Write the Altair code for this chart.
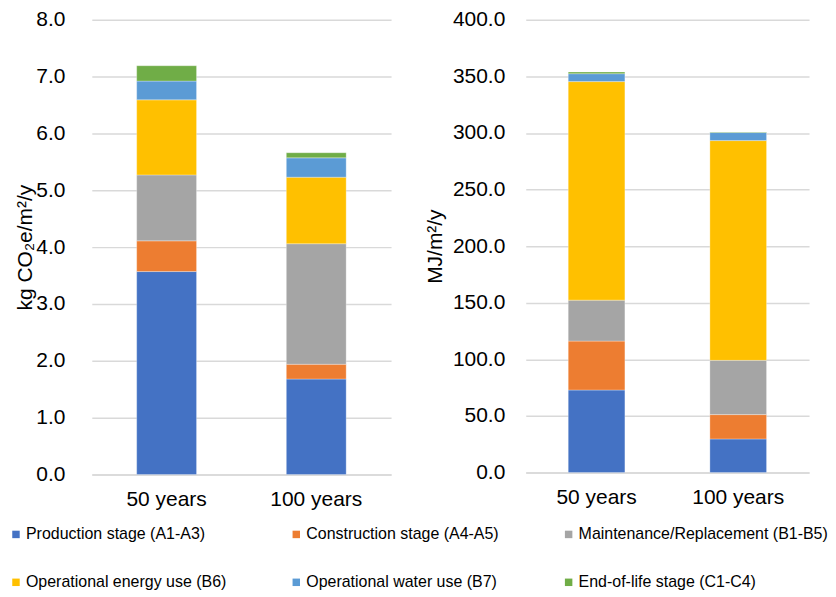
import altair as alt
import pandas as pd

stages = [
    "Production stage (A1-A3)",
    "Construction stage (A4-A5)",
    "Maintenance/Replacement (B1-B5)",
    "Operational energy use (B6)",
    "Operational water use (B7)",
    "End-of-life stage (C1-C4)",
]
colors = ["#4472C4", "#ED7D31", "#A5A5A5", "#FFC000", "#5B9BD5", "#70AD47"]
periods = ["50 years", "100 years"]

# kg CO2e/m2/y
gwp_50 = [3.57, 0.54, 1.16, 1.32, 0.33, 0.27]
gwp_100 = [1.68, 0.26, 2.12, 1.17, 0.34, 0.09]
# MJ/m2/y
pe_50 = [72.9, 43.2, 36.2, 193.0, 7.0, 1.5]
pe_100 = [29.7, 21.5, 47.9, 194.1, 7.1, 0.6]

left_ticks = [0, 1, 2, 3, 4, 5, 6, 7, 8]
right_ticks = [0, 50, 100, 150, 200, 250, 300, 350, 400]


def make_df(v50, v100):
    rows = []
    for period, vals in zip(periods, [v50, v100]):
        for i, (s, v) in enumerate(zip(stages, vals)):
            rows.append({"period": period, "stage": s, "idx": i, "value": v})
    return pd.DataFrame(rows)


legend = alt.Legend(
    title=None,
    orient="none",
    legendX=-84,
    legendY=508,
    direction="horizontal",
    columns=3,
    symbolType="square",
    symbolSize=56,
    symbolStrokeWidth=0,
    labelFontSize=16,
    labelColor="#000000",
    labelOffset=2,
    columnPadding=62,
    rowPadding=32,
    labelLimit=400,
)


def panel(df, title, ticks, dmax, width, height, label_pad, title_x):
    return (
        alt.Chart(df)
        .mark_bar(stroke="#ffffff", strokeWidth=0.5, strokeOpacity=0.6)
        .encode(
            x=alt.X(
                "period:N",
                sort=periods,
                title=None,
                scale=alt.Scale(paddingInner=0.6, paddingOuter=0.3),
                axis=alt.Axis(
                    labelAngle=0,
                    labelFontSize=21,
                    labelColor="#000000",
                    ticks=False,
                    domainColor="#D9D9D9",
                    domainWidth=1.5,
                    labelPadding=14,
                ),
            ),
            y=alt.Y(
                "value:Q",
                stack="zero",
                title=title,
                scale=alt.Scale(domain=[0, dmax], nice=False),
                axis=alt.Axis(
                    values=ticks,
                    format=".1f",
                    ticks=False,
                    domain=False,
                    gridColor="#D9D9D9",
                    gridWidth=1.5,
                    labelFontSize=21,
                    labelColor="#000000",
                    labelPadding=label_pad,
                    titleFontSize=21,
                    titleFontWeight="normal",
                    titleColor="#000000",
                    titleX=title_x,
                    titleBaseline="middle",
                ),
            ),
            color=alt.Color(
                "stage:N",
                sort=stages,
                scale=alt.Scale(domain=stages, range=colors),
                legend=legend,
            ),
            order=alt.Order("idx:Q", sort="ascending"),
        )
        .properties(width=width, height=height)
    )


left = panel(make_df(gwp_50, gwp_100), "kg CO₂e/m²/y", left_ticks, 8, 300, 456, 27, -66)
right = panel(make_df(pe_50, pe_100), "MJ/m²/y", right_ticks, 400, 284, 454, 21, -90)

chart = (
    alt.hconcat(left, right, spacing=34)
    .properties(padding={"left": 0, "top": 0, "right": 0, "bottom": 0})
    .configure(font="Liberation Sans")
    .configure_view(stroke=None)
)

chart.save("out.html", embed_options={"renderer": "svg", "actions": False})
